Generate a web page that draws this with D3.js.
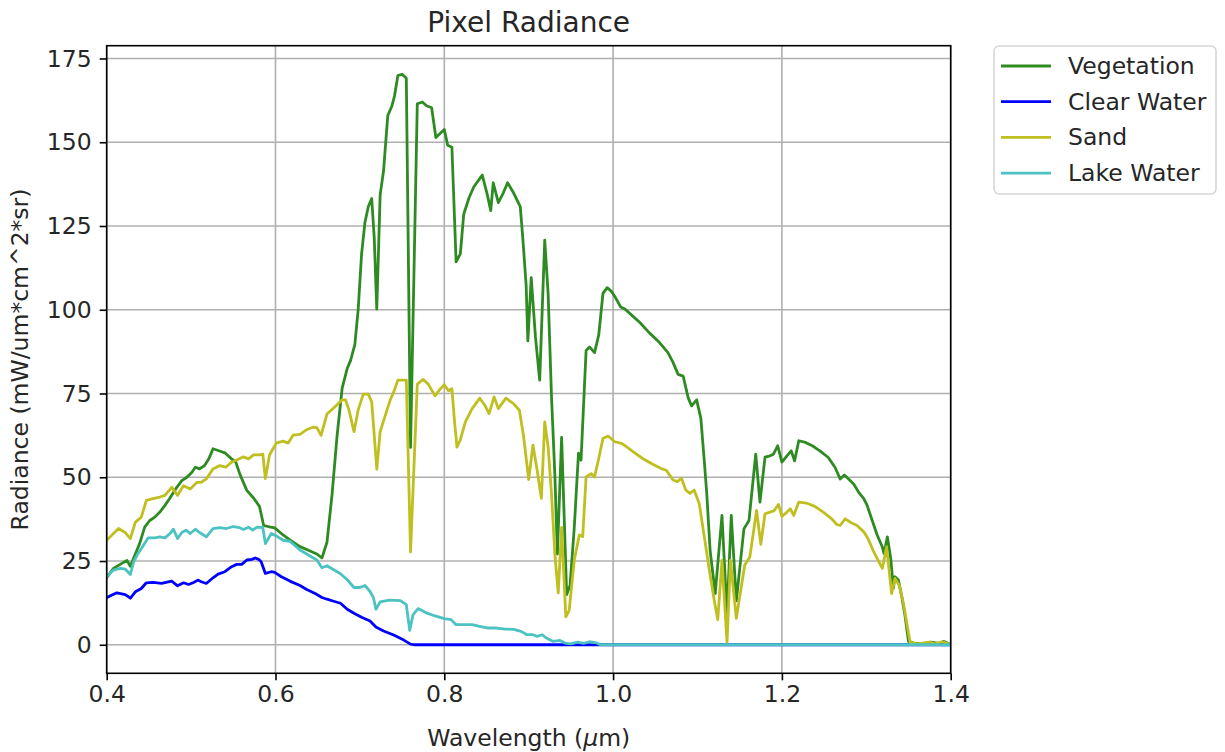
<!DOCTYPE html>
<html>
<head>
<meta charset="utf-8">
<script src="https://cdn.jsdelivr.net/npm/d3@7"></script>
<style>
  body { margin: 0; background: #fff; }
  text { font-family: "DejaVu Sans", sans-serif; fill: #262626; }
</style>
</head>
<body>
<svg id="chart" width="1225" height="752"></svg>
<script>
// Spectral radiance samples (wavelength in µm, radiance in mW/um*cm^2*sr)
const vegetationWl = [0.400,0.408,0.416,0.424,0.428,0.434,0.439,0.445,0.451,0.457,0.463,0.469,0.475,0.483,0.489,0.495,0.501,0.505,0.510,0.516,0.521,0.526,0.532,0.540,0.548,0.553,0.558,0.566,0.574,0.581,0.586,0.593,0.599,0.607,0.617,0.629,0.641,0.649,0.655,0.661,0.667,0.673,0.679,0.685,0.689,0.694,0.698,0.702,0.706,0.710,0.714,0.717,0.720,0.724,0.728,0.733,0.738,0.741,0.745,0.750,0.755,0.760,0.768,0.774,0.779,0.785,0.790,0.795,0.800,0.804,0.809,0.814,0.819,0.823,0.829,0.835,0.845,0.851,0.855,0.858,0.864,0.870,0.875,0.882,0.890,0.893,0.897,0.899,0.903,0.908,0.913,0.919,0.923,0.927,0.931,0.934,0.939,0.945,0.949,0.954,0.959,0.962,0.968,0.972,0.978,0.983,0.988,0.993,0.998,1.004,1.009,1.014,1.022,1.032,1.043,1.055,1.065,1.071,1.077,1.083,1.089,1.093,1.099,1.104,1.108,1.111,1.115,1.121,1.129,1.135,1.140,1.146,1.155,1.161,1.169,1.174,1.180,1.186,1.190,1.195,1.200,1.206,1.211,1.215,1.220,1.228,1.236,1.245,1.255,1.263,1.269,1.274,1.279,1.285,1.291,1.297,1.301,1.307,1.313,1.319,1.321,1.325,1.329,1.332,1.334,1.338,1.342,1.346,1.350,1.356,1.366,1.376,1.386,1.392,1.400];
const vegetationRad = [20.0,22.8,24.0,25.2,23.4,27.2,30.2,35.1,37.1,38.1,39.6,41.6,43.8,47.0,49.0,50.0,51.5,53.0,52.5,53.5,55.5,58.5,58.0,57.3,55.5,54.5,50.8,46.1,43.8,41.3,35.6,35.2,34.9,33.2,31.3,29.3,28.0,27.1,25.9,30.6,44.8,62.5,76.6,82.5,84.9,89.6,100.2,116.7,126.1,130.8,133.2,121.4,100.2,134.3,141.4,157.9,160.9,163.8,169.9,170.3,169.1,58.9,161.5,162.0,160.9,160.3,151.4,152.6,153.8,149.1,148.5,114.3,116.7,128.5,133.2,136.7,140.2,134.3,129.6,137.9,132.0,134.9,137.9,134.9,130.8,121.4,107.2,90.7,109.6,91.9,79.0,120.8,104.9,74.2,50.7,27.1,61.9,15.0,17.7,35.0,57.2,55.1,87.8,88.9,87.2,92.5,104.9,106.6,105.5,103.1,100.8,100.2,98.4,96.1,93.1,90.2,87.2,84.3,80.7,80.2,73.7,71.3,73.1,67.5,55.0,45.0,28.0,15.3,38.6,9.0,38.6,13.1,34.6,37.1,56.9,42.6,56.0,56.4,56.9,59.4,54.5,56.4,57.9,54.9,60.9,60.4,59.4,57.9,55.9,52.9,49.5,50.7,49.5,48.0,45.5,43.6,41.6,37.1,32.7,29.2,27.2,32.2,25.7,16.8,20.3,19.3,14.4,8.4,1.0,0.5,0.3,0.8,0.4,1.0,0.0];

const clearWaterWl = [0.400,0.412,0.422,0.428,0.434,0.441,0.447,0.455,0.465,0.477,0.484,0.491,0.497,0.503,0.508,0.512,0.518,0.526,0.532,0.540,0.548,0.554,0.560,0.566,0.572,0.576,0.580,0.583,0.588,0.595,0.599,0.607,0.617,0.629,0.637,0.647,0.655,0.661,0.669,0.677,0.685,0.693,0.702,0.712,0.719,0.728,0.740,0.752,0.760,0.765,0.800,0.900,1.000,1.100,1.200,1.300,1.400];
const clearWaterRad = [14.1,15.5,15.0,13.9,15.8,16.8,18.5,18.6,18.3,19.0,17.6,18.5,18.0,18.6,19.3,18.8,18.3,20.0,21.1,21.8,23.3,24.0,24.0,25.3,25.5,25.9,25.5,24.8,21.3,21.8,21.6,20.3,19.0,17.7,16.5,15.3,14.1,13.6,13.0,12.4,10.6,9.4,8.2,7.1,5.3,4.1,2.9,1.4,0.2,0.0,0.0,0.0,0.0,0.0,0.0,0.0,0.0];

const sandWl = [0.400,0.414,0.422,0.428,0.434,0.441,0.447,0.455,0.463,0.469,0.477,0.484,0.491,0.499,0.507,0.512,0.518,0.526,0.534,0.541,0.548,0.556,0.562,0.568,0.574,0.581,0.585,0.588,0.593,0.601,0.609,0.615,0.621,0.629,0.637,0.645,0.649,0.654,0.661,0.669,0.679,0.683,0.687,0.693,0.698,0.704,0.710,0.714,0.717,0.720,0.724,0.730,0.736,0.740,0.745,0.755,0.760,0.768,0.775,0.781,0.789,0.795,0.800,0.805,0.809,0.812,0.815,0.819,0.825,0.833,0.842,0.848,0.853,0.859,0.864,0.873,0.882,0.889,0.894,0.900,0.905,0.910,0.915,0.919,0.923,0.927,0.931,0.935,0.939,0.944,0.948,0.954,0.960,0.964,0.968,0.974,0.978,0.983,0.988,0.994,1.002,1.010,1.016,1.024,1.035,1.047,1.057,1.063,1.071,1.076,1.081,1.086,1.091,1.096,1.102,1.108,1.114,1.120,1.124,1.129,1.135,1.139,1.146,1.156,1.162,1.170,1.175,1.180,1.186,1.191,1.196,1.200,1.206,1.210,1.214,1.220,1.229,1.239,1.249,1.259,1.265,1.269,1.275,1.281,1.289,1.297,1.302,1.308,1.314,1.319,1.324,1.327,1.330,1.334,1.339,1.344,1.348,1.352,1.360,1.375,1.381,1.390,1.400];
const sandRad = [31.2,34.7,33.5,31.7,36.6,38.1,43.1,43.6,44.1,44.6,47.0,44.6,47.5,46.5,48.5,48.5,49.5,52.5,53.5,53.0,54.5,55.4,56.1,55.5,56.7,56.7,56.9,49.6,56.7,60.2,60.8,60.2,62.6,62.8,64.2,65.0,64.8,62.5,68.9,70.7,73.1,73.1,70.1,63.6,70.1,74.8,74.8,72.5,62.5,52.4,63.6,68.4,73.1,75.4,79.0,79.0,27.7,77.8,79.2,77.8,74.3,76.3,77.6,75.8,76.4,67.0,59.0,61.2,66.5,70.5,73.6,71.5,69.0,74.0,70.5,73.6,72.0,70.0,62.1,49.3,59.6,52.1,43.7,66.5,59.1,45.2,27.0,15.5,35.0,8.3,10.3,25.3,32.8,32.3,50.1,51.1,50.1,55.6,61.6,62.3,60.6,60.1,59.1,57.6,55.6,53.9,52.6,52.1,49.2,48.7,49.7,46.2,45.2,46.2,42.2,32.3,22.3,13.0,7.5,25.2,0.7,25.2,7.9,23.8,26.2,40.1,30.0,39.1,39.6,40.1,41.9,38.3,39.6,40.6,38.6,42.6,42.3,41.3,39.6,37.6,35.9,35.6,37.6,36.6,35.6,33.7,31.7,28.2,25.2,22.8,29.2,22.3,15.3,19.8,17.8,12.4,6.4,0.7,0.3,0.8,0.3,0.9,0.0];

const lakeWaterWl = [0.400,0.408,0.416,0.422,0.428,0.432,0.437,0.443,0.449,0.457,0.463,0.469,0.475,0.479,0.484,0.489,0.494,0.499,0.505,0.510,0.518,0.526,0.534,0.542,0.550,0.557,0.562,0.568,0.573,0.578,0.585,0.588,0.595,0.601,0.609,0.617,0.629,0.641,0.649,0.655,0.661,0.669,0.677,0.685,0.693,0.700,0.706,0.712,0.716,0.719,0.724,0.735,0.748,0.755,0.759,0.763,0.769,0.778,0.789,0.800,0.808,0.814,0.822,0.833,0.842,0.852,0.862,0.872,0.882,0.891,0.898,0.905,0.910,0.916,0.921,0.929,0.937,0.943,0.950,0.958,0.965,0.972,0.980,0.985,1.100,1.200,1.300,1.400];
const lakeWaterRad = [20.3,22.3,22.8,22.6,21.0,24.8,27.2,29.5,31.9,31.9,32.2,31.9,33.2,34.5,31.7,33.5,34.2,33.2,34.5,33.5,32.2,34.7,35.0,34.7,35.3,35.0,34.4,35.1,34.2,35.1,35.0,30.2,33.2,32.5,31.2,30.9,28.3,26.5,25.3,23.0,23.6,22.4,21.2,19.4,17.1,17.1,17.7,15.9,14.1,10.6,12.8,13.3,13.2,12.0,4.3,9.0,10.8,9.6,8.6,7.8,7.5,6.0,6.0,6.0,5.5,5.0,5.0,4.7,4.6,4.0,3.0,3.0,2.5,3.0,2.0,1.0,1.3,0.5,0.3,0.8,0.4,0.9,0.6,0.0,0.0,0.0,0.0,0.0];

const seriesNames = ["Vegetation", "Clear Water", "Sand", "Lake Water"];
const seriesColors = ["#2e8b22", "#0000ff", "#bfbf1f", "#4cc2c2"];
const xTickValues = [0.4, 0.6, 0.8, 1.0, 1.2, 1.4];
const yTickValues = [0, 25, 50, 75, 100, 125, 150, 175];

const series = [
  { name: seriesNames[0], wl: vegetationWl, rad: vegetationRad, color: seriesColors[0] },
  { name: seriesNames[1], wl: clearWaterWl, rad: clearWaterRad, color: seriesColors[1] },
  { name: seriesNames[2], wl: sandWl, rad: sandRad, color: seriesColors[2] },
  { name: seriesNames[3], wl: lakeWaterWl, rad: lakeWaterRad, color: seriesColors[3] }
].map(s => ({ ...s, points: s.wl.map((w, i) => [w, s.rad[i]]) }));

// Layout
const plot = { left: 106.7, right: 950.7, top: 45.7, bottom: 673.3 };
const W = plot.right - plot.left, H = plot.bottom - plot.top;
const fontSize = 23.5, titleSize = 28;

const svg = d3.select("#chart");

// Y extent padded by 5% on each side
const allRad = series.flatMap(s => s.rad);
const yMin = d3.min(allRad), yMax = d3.max(allRad);
const pad = (yMax - yMin) * 0.05;

const x = d3.scaleLinear().domain([0.4, 1.4]).range([plot.left, plot.right]);
const y = d3.scaleLinear().domain([yMin - pad, yMax + pad]).range([plot.bottom, plot.top]);

// Grid
const grid = svg.append("g").attr("class", "grid");
grid.selectAll("line.vx").data(xTickValues).join("line")
  .attr("x1", d => x(d)).attr("x2", d => x(d))
  .attr("y1", plot.top).attr("y2", plot.bottom)
  .attr("stroke", "#b0b0b0").attr("stroke-width", 1.6);
grid.selectAll("line.hy").data(yTickValues).join("line")
  .attr("x1", plot.left).attr("x2", plot.right)
  .attr("y1", d => y(d)).attr("y2", d => y(d))
  .attr("stroke", "#b0b0b0").attr("stroke-width", 1.6);

// Lines
svg.append("clipPath").attr("id", "plotClip").append("rect")
  .attr("x", plot.left).attr("y", plot.top).attr("width", W).attr("height", H);

const line = d3.line().x(d => x(d[0])).y(d => y(d[1]));
svg.append("g").attr("clip-path", "url(#plotClip)")
  .selectAll("path").data(series).join("path")
  .attr("d", d => line(d.points))
  .attr("fill", "none")
  .attr("stroke", d => d.color)
  .attr("stroke-width", 2.8)
  .attr("stroke-linejoin", "round")
  .attr("stroke-linecap", "square");

// Axes
const xAxis = d3.axisBottom(x).tickValues(xTickValues).tickFormat(d3.format(".1f"))
  .tickSize(7).tickPadding(5);
const yAxis = d3.axisLeft(y).tickValues(yTickValues).tickFormat(d3.format("d"))
  .tickSize(7).tickPadding(8);

const gx = svg.append("g").attr("transform", `translate(0,${plot.bottom})`).call(xAxis);
const gy = svg.append("g").attr("transform", `translate(${plot.left},0)`).call(yAxis);
[gx, gy].forEach(g => {
  g.select(".domain").remove();
  g.selectAll(".tick line").attr("stroke", "#000").attr("stroke-width", 1.6);
  g.selectAll(".tick text").attr("font-size", fontSize).attr("fill", "#262626")
    .attr("font-family", "DejaVu Sans, sans-serif");
});

// Frame
svg.append("rect").attr("x", plot.left).attr("y", plot.top)
  .attr("width", W).attr("height", H)
  .attr("fill", "none").attr("stroke", "#000").attr("stroke-width", 1.6);

// Title and axis labels
svg.append("text").attr("x", (plot.left + plot.right) / 2).attr("y", 32)
  .attr("text-anchor", "middle").attr("font-size", titleSize).text("Pixel Radiance");

const xl = svg.append("text").attr("x", (plot.left + plot.right) / 2).attr("y", 746)
  .attr("text-anchor", "middle").attr("font-size", fontSize);
xl.append("tspan").text("Wavelength (");
xl.append("tspan").attr("font-style", "italic").text("μ");
xl.append("tspan").text("m)");

svg.append("text")
  .attr("transform", `translate(28,${(plot.top + plot.bottom) / 2}) rotate(-90)`)
  .attr("text-anchor", "middle").attr("font-size", fontSize)
  .text("Radiance (mW/um*cm^2*sr)");

// Legend
const lg = svg.append("g").attr("transform", "translate(994,46)");
lg.append("rect").attr("width", 222).attr("height", 148).attr("rx", 5)
  .attr("fill", "#fff").attr("fill-opacity", 0.8)
  .attr("stroke", "#d6d6d6").attr("stroke-width", 1.6);
const rows = lg.selectAll("g.row").data(series).join("g")
  .attr("transform", (d, i) => `translate(0,${20 + i * 35.7})`);
rows.append("line").attr("x1", 7).attr("x2", 57).attr("y1", 0).attr("y2", 0)
  .attr("stroke", d => d.color).attr("stroke-width", 2.8);
rows.append("text").attr("x", 74).attr("y", 8).attr("font-size", fontSize).text(d => d.name);
</script>
</body>
</html>
